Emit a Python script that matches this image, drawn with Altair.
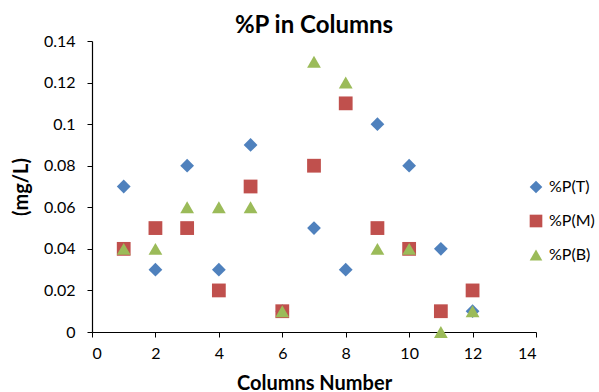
import altair as alt
import pandas as pd

columns = [1, 2, 3, 4, 5, 6, 7, 8, 9, 10, 11, 12]
p_t = [0.07, 0.03, 0.08, 0.03, 0.09, 0.01, 0.05, 0.03, 0.10, 0.08, 0.04, 0.01]
p_m = [0.04, 0.05, 0.05, 0.02, 0.07, 0.01, 0.08, 0.11, 0.05, 0.04, 0.01, 0.02]
p_b = [0.04, 0.04, 0.06, 0.06, 0.06, 0.01, 0.13, 0.12, 0.04, 0.04, 0.00, 0.01]
series = ["%P(T)", "%P(M)", "%P(B)"]
colors = ["#4F81BD", "#C0504D", "#9BBB59"]
shapes = ["diamond", "square", "triangle-up"]

rows = []
for name, vals in zip(series, [p_t, p_m, p_b]):
    for c, v in zip(columns, vals):
        rows.append({"col": c, "val": v, "series": name})
df = pd.DataFrame(rows)
df["order"] = df["series"].map({s: i for i, s in enumerate(series)})

FONT = "Lato"

chart = alt.Chart(df).mark_point(filled=True, opacity=1, size=190).encode(
    x=alt.X("col:Q", scale=alt.Scale(domain=[0, 14], nice=False),
            axis=alt.Axis(values=list(range(0, 15, 2)), title="Columns Number")),
    y=alt.Y("val:Q", scale=alt.Scale(domain=[0, 0.14], nice=False),
            axis=alt.Axis(values=[0, 0.02, 0.04, 0.06, 0.08, 0.1, 0.12, 0.14],
                          labelExpr="format(datum.value, '~g')", title="(mg/L)")),
    color=alt.Color("series:N", scale=alt.Scale(domain=series, range=colors),
                    legend=alt.Legend(title=None, orient="none", legendX=436, legendY=138,
                                      symbolSize=160, labelFontSize=16, labelFont=FONT,
                                      rowPadding=18, symbolOpacity=1, labelColor="#000",
                                      labelOffset=5, labelLimit=200)),
    shape=alt.Shape("series:N", scale=alt.Scale(domain=series, range=shapes), legend=None),
    order=alt.Order("order:Q"),
).properties(
    width=444, height=291,
    title=alt.TitleParams("%P in Columns", fontSize=24, font=FONT, fontWeight="bold",
                          anchor="middle", offset=-5, color="#000"),
    autosize=alt.AutoSizeParams(type="none"),
    padding={"left": 92, "top": 41, "right": 63, "bottom": 60},
).configure_view(stroke=None).configure_axis(
    grid=False, domainColor="#000", tickColor="#000", tickSize=5, domainWidth=1.2,
    labelFont=FONT, labelFontSize=16, labelColor="#000",
    titleFont=FONT, titleFontSize=20, titleFontWeight="bold", titleColor="#000",
).configure_axisX(labelPadding=8, titlePadding=12).configure_axisY(labelPadding=12, titlePadding=12)

chart.save("out.html", embed_options={"renderer": "svg", "actions": False})
